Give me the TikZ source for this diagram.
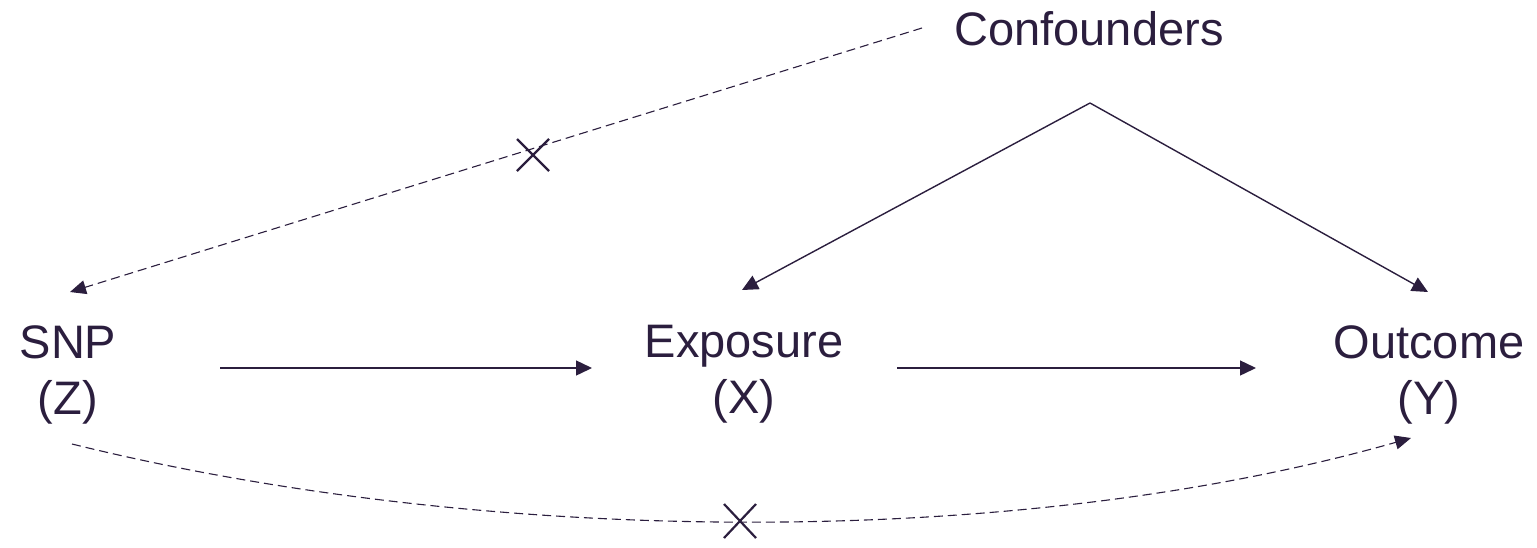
\documentclass[tikz,border=0pt]{standalone}
\usepackage{fontspec}
\setmainfont{Liberation Sans}
\usetikzlibrary{arrows.meta,calc}
\definecolor{ink}{HTML}{2B1E3E}
\begin{document}
\begin{tikzpicture}[x=1pt,y=-1pt,
  lbl/.style={text=ink,font=\fontsize{47}{56}\selectfont,align=center,inner sep=0pt,anchor=north},
  solidarrow/.style={draw=ink,line width=1.4pt,-{Triangle[length=16pt,width=15pt]}},
  dasharrow/.style={draw=ink,line width=1.1pt,dash pattern=on 9pt off 5pt,-{Triangle[length=16pt,width=14pt]}},
  cross/.style={draw=ink,line width=2.2pt}]
\useasboundingbox (0,0) rectangle (1537,547);
% nodes
\node[lbl] (conf) at (1089,11) {Confounders};
\node[lbl] (snp) at (68,325) {SNP\\(Z)};
\node[lbl] (exp) at (744,325) {Exposure\\(X)};
\node[lbl] (out) at (1429,325) {Outcome\\(Y)};
% connector ends
\coordinate (apex) at (1090,103);
\coordinate (confL) at (922,28);
\coordinate (snpTop) at (70,292);
\coordinate (snpR) at (220,368);
\coordinate (expL) at (592,368);
\coordinate (expR) at (897,368);
\coordinate (outL) at (1256,368);
\coordinate (expTop) at (742,290);
\coordinate (outTop) at (1428,292);
\coordinate (snpBot) at (72,444);
\coordinate (outBot) at (1411,438);
\coordinate (x1) at (533,155);
\coordinate (x2) at (740,521);
% connectors
\draw[solidarrow] (snpR) -- (expL);
\draw[solidarrow] (expR) -- (outL);
\draw[solidarrow] (apex) -- (outTop);
\draw[solidarrow] (apex) -- (expTop);
\draw[dasharrow] (confL) -- (snpTop);
\draw[dasharrow] (snpBot) .. controls (480,545) and (1010,552) .. (outBot);
% crosses
\draw[cross] ($(x1)+(-16,-16)$) -- ($(x1)+(16,16)$) ($(x1)+(-16,16)$) -- ($(x1)+(16,-16)$);
\draw[cross] ($(x2)+(-16,-17)$) -- ($(x2)+(16,17)$) ($(x2)+(-16,17)$) -- ($(x2)+(16,-17)$);
\end{tikzpicture}
\end{document}
